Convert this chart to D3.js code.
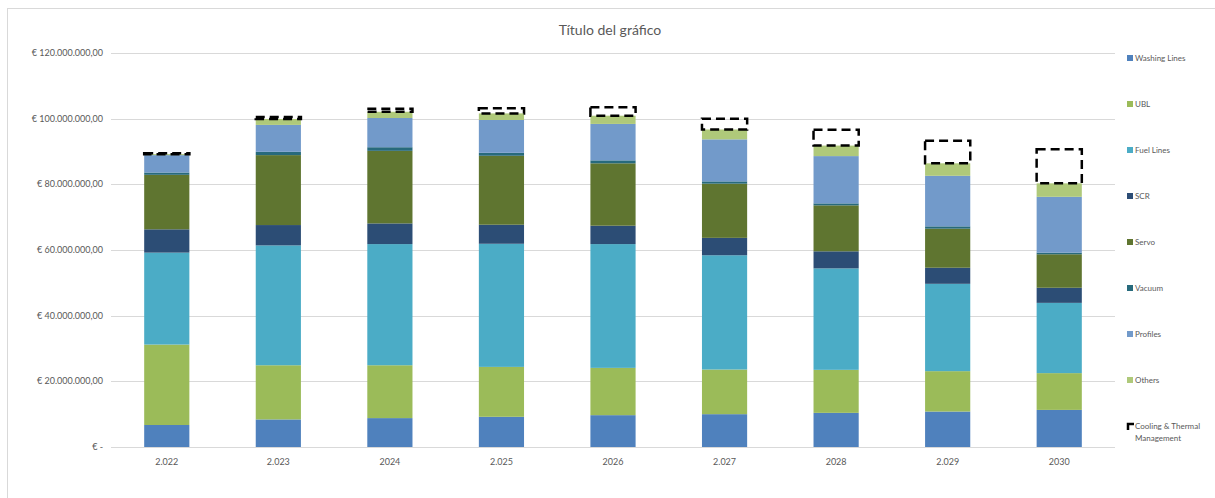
<!DOCTYPE html>
<html>
<head>
<meta charset="utf-8">
<script src="https://cdn.jsdelivr.net/npm/d3@7"></script>
<style>
  body { margin: 0; background: #fff; }
  text { font-family: Lato, "Open Sans", sans-serif; fill: #595959; }
</style>
</head>
<body>
<div class="chart"></div>
<script>
// data (millions of euro)
var years = ["2.022", "2.023", "2024", "2.025", "2026", "2.027", "2028", "2.029", "2030"];
var seriesNames = ["Washing Lines", "UBL", "Fuel Lines", "SCR", "Servo", "Vacuum", "Profiles", "Others", "Cooling & Thermal Management"];
var washingLines = [6.7, 8.4, 8.8, 9.2, 9.7, 10.0, 10.4, 10.8, 11.3];
var ubl          = [24.5, 16.5, 16.1, 15.2, 14.4, 13.6, 13.1, 12.3, 11.2];
var fuelLines    = [28.0, 36.5, 36.9, 37.5, 37.7, 34.8, 30.9, 26.6, 21.4];
var scr          = [7.1, 6.2, 6.3, 5.8, 5.6, 5.3, 5.2, 4.9, 4.6];
var servo        = [16.6, 21.3, 22.1, 21.0, 19.0, 16.5, 14.0, 11.9, 10.2];
var vacuum       = [0.7, 1.0, 1.1, 0.9, 0.9, 0.7, 0.6, 0.7, 0.5];
var profiles     = [5.3, 8.2, 8.9, 10.0, 11.1, 12.8, 14.4, 15.4, 17.0];
var others       = [0.3, 1.8, 1.9, 2.0, 2.5, 3.0, 3.2, 3.8, 4.1];
var cooling      = [0.3, 0.6, 0.9, 1.6, 2.6, 3.3, 4.8, 6.9, 10.4];
var yTicks = [0, 20, 40, 60, 80, 100, 120];
var yTickLabels = ["€ -", "€ 20.000.000,00", "€ 40.000.000,00", "€ 60.000.000,00", "€ 80.000.000,00", "€ 100.000.000,00", "€ 120.000.000,00"];
var colors = ["#4f81bd", "#9bbb59", "#4bacc6", "#2c4d75", "#5f7530", "#276a7c", "#729aca", "#afc97a", "none"];

var allSeries = [washingLines, ubl, fuelLines, scr, servo, vacuum, profiles, others, cooling];

var W = 1215, H = 498;
var margin = {top: 53, right: 100, bottom: 51, left: 111},
    width = 1115 - margin.left,
    height = 447 - margin.top;

var svg = d3.select(".chart").append("svg")
    .attr("width", W)
    .attr("height", H);

// chart border (cut off at right and bottom)
svg.append("rect")
    .attr("x", 7.5).attr("y", 8.5)
    .attr("width", W + 10).attr("height", H + 10)
    .attr("fill", "none").attr("stroke", "#d9d9d9");

svg.append("text")
    .attr("x", 610).attr("y", 35)
    .attr("text-anchor", "middle")
    .style("font-size", "14px")
    .text("Título del gráfico");

var g = svg.append("g")
    .attr("transform", "translate(" + margin.left + "," + margin.top + ")");

var x = d3.scaleBand().domain(years).range([0, width]).paddingInner(0.595).paddingOuter(0.2975);
var y = d3.scaleLinear().domain([0, 120]).range([height, 0]);

// gridlines
g.selectAll(".grid")
    .data(yTicks.slice(1))
    .enter().append("line")
    .attr("x1", 0).attr("x2", width)
    .attr("y1", function(d){ return Math.round(y(d)) + 0.5; })
    .attr("y2", function(d){ return Math.round(y(d)) + 0.5; })
    .attr("stroke", "#d9d9d9");

// y labels
g.selectAll(".ylab")
    .data(yTicks)
    .enter().append("text")
    .attr("x", -8)
    .attr("y", function(d){ return y(d); })
    .attr("dy", "0.35em")
    .attr("text-anchor", "end")
    .style("font-size", "9px")
    .text(function(d, i){ return yTickLabels[i]; });

// stack
var rows = years.map(function(yr, i){
  var r = {year: yr};
  seriesNames.forEach(function(s, j){ r[s] = allSeries[j][i]; });
  return r;
});
var stacked = d3.stack().keys(seriesNames)(rows);

stacked.forEach(function(layer, j){
  var isCooling = j === seriesNames.length - 1;
  g.selectAll(".s" + j)
      .data(layer)
      .enter().append("rect")
      .attr("x", function(d){ return x(d.data.year); })
      .attr("width", x.bandwidth())
      .attr("y", function(d){ return y(d[1]); })
      .attr("height", function(d){ return y(d[0]) - y(d[1]); })
      .attr("fill", isCooling ? "none" : colors[j])
      .attr("stroke", isCooling ? "#000" : "none")
      .attr("stroke-width", isCooling ? 2.5 : 0)
      .attr("stroke-dasharray", isCooling ? "9,5" : null);
});

// baseline
g.append("line")
    .attr("x1", 0).attr("x2", width)
    .attr("y1", height + 0.5).attr("y2", height + 0.5)
    .attr("stroke", "#d9d9d9");

// x labels
g.selectAll(".xlab")
    .data(years)
    .enter().append("text")
    .attr("x", function(d){ return x(d) + x.bandwidth() / 2; })
    .attr("y", height + 18)
    .attr("text-anchor", "middle")
    .style("font-size", "9px")
    .text(function(d){ return d; });

// legend
var legend = svg.append("g").attr("transform", "translate(1127,0)");
seriesNames.forEach(function(s, j){
  var ly = 58 + j * 46;
  if (j < seriesNames.length - 1) {
    legend.append("rect")
        .attr("x", 0).attr("y", ly - 3)
        .attr("width", 6).attr("height", 6)
        .attr("fill", colors[j]);
    legend.append("text")
        .attr("x", 8).attr("y", ly)
        .attr("dy", "0.35em")
        .style("font-size", "8px")
        .text(s);
  } else {
    legend.append("path")
        .attr("d", "M1," + (ly + 4) + "V" + (ly - 2) + "H7")
        .attr("fill", "none").attr("stroke", "#000").attr("stroke-width", 2.5);
    legend.append("text")
        .attr("x", 8).attr("y", ly)
        .attr("dy", "0.35em")
        .style("font-size", "8px")
        .text("Cooling & Thermal");
    legend.append("text")
        .attr("x", 8).attr("y", ly + 12)
        .attr("dy", "0.35em")
        .style("font-size", "8px")
        .text("Management");
  }
});
</script>
</body>
</html>
